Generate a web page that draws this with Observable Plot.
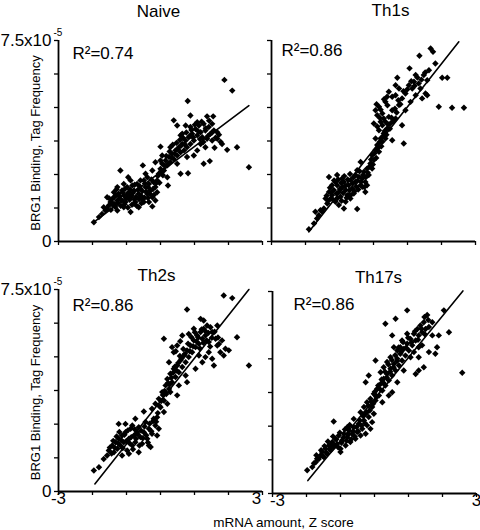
<!DOCTYPE html>
<html>
<head>
<meta charset="utf-8">
<script src="https://cdn.jsdelivr.net/npm/d3@7"></script>
<script src="https://cdn.jsdelivr.net/npm/@observablehq/plot@0.6"></script>
<style>
  html, body { margin: 0; padding: 0; background: #fff; }
  #chart { position: relative; width: 480px; height: 530px; font-family: "Liberation Sans", Arial, Helvetica, sans-serif; }
  #chart > svg { position: absolute; }
  #xlabel { position: absolute; left: 183.5px; width: 200px; top: 515.6px; text-align: center; font-size: 13.5px; line-height: 13.5px; color: #000; white-space: nowrap; }
</style>
</head>
<body>
<div id="chart"></div>
<script>
// ---------------- data ----------------
const panelNames = ["Naive", "Th1s", "Th2s", "Th17s"];
const rSquared = ["R\u00B2=0.74", "R\u00B2=0.86", "R\u00B2=0.86", "R\u00B2=0.86"];
const xTicks = [-3, -2, -1, 0, 1, 2, 3];
const xTickLabels = ["-3", "3"];
const yTicks = [0, 1.25, 2.5, 3.75, 5, 6.25, 7.5];           // BRG1 tag frequency, x10^-5
const yTickLabels = ["0", "", "", "", "", "", "7.5x10"];
const yExponent = "-5";
const yLabel = "BRG1 Binding, Tag Frequency";
const xLabel = "mRNA amount, Z score";

// regression lines [x, y] (y in units of 1e-5)
const fitNaive = [[-1.96, 0.72], [2.60, 5.07]];
const fitTh1 = [[-1.90, 0.36], [2.51, 7.45]];
const fitTh2 = [[-1.93, 0.28], [2.60, 7.50]];
const fitTh17 = [[-1.96, 0.48], [2.60, 7.52]];

// points [mRNA z score, BRG1 tag frequency x1e-5]
const naivePoints = [
  [1.88,6.03],[2.11,5.63],[0.80,5.24],[2.60,2.77],[2.25,3.52],[1.96,3.42],[-1.18,2.65],[-0.95,2.40],
  [-0.52,2.84],[-1.96,0.72],[0.22,2.09],[0.59,2.53],[0.81,2.55],[-0.24,1.31],[-0.88,1.10],[-1.67,1.28],
  [0.39,4.52],[0.88,4.70],[1.37,4.67],[1.55,4.67],[1.67,4.08],[1.77,3.71],[1.59,3.50],[1.27,2.90],
  [1.45,3.00],[0.98,3.21],[0.64,4.02],[0.00,3.54],
  [-1.81,0.91],[-1.72,1.03],[-1.62,1.16],[-1.52,1.34],[-1.47,1.47],[-1.42,1.59],[-1.37,1.41],[-1.32,1.72],
  [-1.27,1.53],[-1.23,1.78],[-1.18,1.59],[-1.13,1.90],[-1.08,1.72],[-1.03,1.47],[-0.98,2.03],[-0.93,1.84],
  [-0.88,1.65],[-0.83,2.09],[-0.78,1.90],[-0.74,1.47],[-0.69,2.15],[-0.64,1.78],[-0.59,1.97],[-0.54,1.59],
  [-0.49,2.28],[-0.44,2.03],[-0.39,1.78],[-0.34,2.15],[-0.29,1.90],[-0.24,1.65],[-0.20,2.21],[-0.15,2.03],
  [-0.10,1.84],[-1.37,1.84],[-1.27,2.03],[-1.08,2.15],[-0.78,1.41],[-0.64,1.28],[-0.49,1.47],[-0.34,1.47],
  [-0.15,1.53],[-0.10,2.28],[-0.05,2.53],[0.00,2.71],[0.05,2.90],[0.10,2.65],[0.15,3.02],[0.20,2.84],
  [0.25,3.15],[0.29,2.96],[0.34,3.27],[0.39,3.08],[0.44,3.40],[0.49,3.21],[0.54,3.52],[0.59,3.33],
  [0.64,3.64],[0.69,3.40],[0.74,3.77],[0.78,3.52],[0.83,3.89],[0.88,3.64],[0.93,4.02],[0.98,3.77],
  [1.03,4.20],[1.08,3.96],[1.13,4.33],[1.18,4.08],[1.23,3.89],[1.27,4.39],[1.32,4.14],[1.37,3.83],
  [1.42,4.27],[1.47,4.02],[1.52,4.39],[1.57,4.14],[1.08,3.40],[0.78,3.15],[0.49,2.90],[0.20,2.40],
  [0.05,3.21],[0.29,3.52],[0.59,3.96],[0.74,4.33],[0.88,4.27],[1.18,3.64],[1.32,3.52],[1.52,3.77],
  [1.67,3.83],[1.81,3.64],[1.08,4.45],[0.49,4.33],[0.00,3.02],[-0.39,2.40],[-0.59,2.28],[-0.88,2.28],
  [-1.27,1.16],[-1.08,1.28],[-1.57,1.65],[-0.44,2.53],[-0.24,2.65],[-0.15,2.96],
  [-1.58,1.22],[-1.51,1.61],[-1.46,1.18],[-1.41,1.37],[-1.36,1.66],[-1.33,1.29],[-1.29,1.95],[-1.26,1.44],
  [-1.21,1.68],[-1.17,1.33],[-1.14,1.52],[-1.11,1.83],[-1.06,1.39],[-1.04,1.97],[-1.01,1.61],[-0.97,1.77],
  [-0.96,1.27],[-0.91,1.56],[-0.89,1.93],[-0.86,1.71],[-0.84,1.37],[-0.81,1.82],[-0.77,1.58],[-0.76,2.12],
  [-0.72,1.67],[-0.70,1.33],[-0.67,1.92],[-0.63,1.58],[-0.61,2.06],[-0.57,1.71],[-0.56,1.43],[-0.53,1.88],
  [-0.47,1.63],[-0.46,2.16],[-0.42,1.86],[-0.37,1.62],[-0.36,2.02],[-0.31,1.77],[-0.27,2.31],[-0.22,1.96],
  [-0.19,1.74],[-0.13,2.17],[-0.08,2.44],[-0.03,2.19],[0.02,2.62],[0.07,2.47],[0.12,2.83],[0.17,3.19],
  [0.23,2.91],[0.27,3.36],[0.32,3.13],[0.36,3.61],[0.42,3.27],[0.47,3.68],[0.51,3.44],[0.57,3.79],
  [0.61,3.58],[0.66,3.87],[0.71,3.63],[0.76,4.07],[0.86,3.93],[0.91,4.16],[0.96,3.88],[1.01,4.36],
  [1.11,4.11],[1.16,3.82],[1.21,4.47],[1.26,3.71],[1.33,4.23],[1.39,3.93],[1.43,4.51],[1.51,4.06],
  [1.62,3.87],[1.72,3.98]
];
const th1Points = [
  [-1.90,0.46],[-1.75,0.67],[-1.66,0.86],[-1.71,1.11],[-1.56,1.17],[-1.46,1.23],[-1.36,1.42],[-1.31,2.41],
  [-1.26,1.60],[-1.22,1.73],[-1.17,1.92],[-1.12,1.48],[-1.07,2.10],[-1.02,1.85],[-0.97,1.67],[-0.92,2.04],
  [-0.87,2.22],[-0.82,1.92],[-0.77,1.73],[-0.73,2.10],[-0.68,2.29],[-0.63,1.98],[-0.58,1.79],[-0.53,2.22],
  [-0.48,1.21],[-0.43,2.41],[-0.38,2.10],[-0.33,2.35],[-0.28,2.60],[-0.24,2.22],[-0.19,2.72],[-0.14,2.48],
  [-1.22,2.10],[-1.12,2.22],[-1.02,1.36],[-0.82,1.48],[-0.68,1.60],[-0.92,2.35],[-1.31,1.85],[-1.41,1.60],
  [-0.53,2.48],[-0.33,2.04],[-0.19,2.10],[-0.09,2.91],[-0.04,3.22],[0.01,3.04],[0.06,3.41],[0.11,3.60],
  [0.16,3.35],[0.21,3.84],[0.26,3.72],[0.30,4.03],[0.35,3.84],[0.40,4.22],[0.06,3.84],[0.16,4.15],
  [0.26,4.34],[0.01,4.40],[0.11,4.71],[0.06,4.90],[0.16,5.03],[0.26,4.78],[0.35,5.21],[0.40,5.40],
  [0.45,5.59],[0.55,5.40],[0.65,5.46],[0.70,6.11],[0.75,5.71],[0.84,5.34],[0.94,5.52],[1.04,5.83],
  [1.06,6.46],[1.14,5.71],[1.19,5.96],[1.24,6.21],[1.33,5.90],[1.35,6.93],[1.43,5.34],[1.48,6.21],
  [1.53,5.52],[1.58,6.02],[1.63,6.39],[1.68,7.20],[1.75,7.08],[1.82,6.64],[1.92,5.03],[2.02,6.11],
  [2.17,6.11],[2.31,4.99],[2.66,4.99],[0.89,3.66],[0.55,3.78],[0.94,4.90],[0.84,4.34],[0.65,4.59],
  [0.50,4.40],[0.35,4.47],[0.75,5.09],[1.09,5.21],[1.24,5.46],[1.38,5.71],[1.58,5.46],[0.55,4.90],
  [0.45,4.65],[0.65,5.83],[0.30,4.59],[0.21,4.47],[-0.04,2.72],[-0.24,1.85],[-0.48,2.66],[-0.38,2.97],
  [-0.73,1.73],[-1.07,2.48],[-1.51,1.11],[-1.61,0.98],[-0.87,1.23],
  [-1.38,1.71],[-1.33,1.52],[-1.28,2.01],[-1.24,1.83],[-1.19,1.56],[-1.16,2.28],[-1.09,1.79],[-1.06,1.62],
  [-1.04,2.31],[-0.99,1.96],[-0.95,2.19],[-0.94,1.52],[-0.89,1.81],[-0.86,2.44],[-0.83,2.07],[-0.79,1.63],
  [-0.76,2.31],[-0.71,1.91],[-0.69,2.52],[-0.66,1.74],[-0.61,2.16],[-0.59,2.39],[-0.56,1.87],[-0.51,2.05],
  [-0.47,2.27],[-0.45,1.94],[-0.41,2.62],[-0.36,2.23],[-0.31,2.48],[-0.27,2.03],[-0.22,2.41],[-0.17,2.57],
  [-0.12,2.79],[-0.07,3.06],[-0.02,2.87],[0.03,3.29],[0.08,3.12],[0.13,3.49],[0.18,3.71],[0.23,3.55],
  [0.28,3.93],[0.33,4.12],[0.38,3.98],[0.43,4.37],[0.48,4.21],[0.53,4.62],[0.58,4.49],[0.63,4.95],
  [0.68,4.81],[0.73,5.27],[0.79,5.12],[0.88,5.61],[0.99,5.67],[1.11,5.98],[1.21,5.81],[1.29,6.12],
  [1.41,6.04],[1.52,6.31],[0.09,5.12],[0.21,4.92],[0.31,5.31],[0.41,5.08],[0.19,4.61],[0.11,4.29]
];
const th2Points = [
  [-1.96,0.78],[-1.81,0.90],[-1.67,1.21],[-1.57,1.34],[-1.52,1.52],[-1.42,1.71],[-1.37,1.46],[-1.32,1.83],
  [-1.27,1.59],[-1.23,2.51],[-1.23,1.96],[-1.18,1.71],[-1.13,2.08],[-1.08,1.83],[-1.03,2.51],[-1.03,2.20],
  [-0.98,1.52],[-0.93,1.96],[-0.88,2.33],[-0.83,2.45],[-0.83,1.71],[-0.78,2.08],[-0.74,1.83],[-0.69,2.20],
  [-0.64,1.46],[-0.64,2.39],[-0.59,2.02],[-0.54,1.77],[-0.49,2.20],[-0.44,2.58],[-0.39,1.96],[-0.34,2.33],
  [-0.29,1.65],[-0.25,2.14],[-0.20,2.70],[-0.15,2.45],[-0.10,2.76],[-0.05,2.33],[-0.49,2.97],[-0.25,3.07],
  [-0.15,3.26],[-0.05,3.44],[0.00,3.13],[0.05,3.69],[0.10,3.38],[0.15,3.94],[0.20,3.26],[0.20,4.18],
  [0.25,3.81],[0.29,4.37],[0.34,4.06],[0.39,4.56],[0.44,4.25],[0.49,3.57],[0.49,4.68],[0.54,4.43],
  [0.59,4.87],[0.64,4.62],[0.69,5.05],[0.74,4.80],[0.78,6.76],[0.78,4.06],[0.78,5.24],[0.83,4.99],
  [0.88,5.42],[0.93,5.17],[0.98,5.61],[1.03,5.36],[1.08,5.79],[1.13,5.48],[1.18,6.41],[1.18,5.92],
  [1.23,5.67],[1.27,6.04],[1.32,5.79],[1.37,6.16],[1.42,5.55],[1.47,6.10],[1.52,5.92],[1.57,4.68],
  [1.62,5.67],[1.67,5.42],[1.72,5.48],[1.76,5.17],[1.81,5.61],[1.86,7.28],[1.91,5.30],[2.01,5.24],
  [2.11,7.18],[2.25,5.73],[2.60,4.68],[0.10,5.67],[0.34,5.36],[0.49,5.42],[0.64,5.79],[0.83,5.85],
  [1.13,5.05],[1.23,4.80],[1.32,4.99],[1.42,5.17],[1.52,4.93],[1.03,4.56],[0.74,4.31],[0.54,3.94],
  [0.29,3.69],[0.10,2.95],[-0.10,2.08],[-0.34,1.71],[-0.93,1.40],[-1.13,1.34],[-0.74,2.70],[0.25,4.80],
  [0.39,5.17],[0.98,6.04],[1.27,6.35],[1.67,6.16],[1.86,5.05],
  [-1.49,1.63],[-1.44,1.41],[-1.39,1.88],[-1.34,1.62],[-1.29,2.04],[-1.24,1.78],[-1.21,2.21],[-1.16,1.91],
  [-1.11,1.61],[-1.06,2.11],[-1.01,1.87],[-0.96,2.27],[-0.91,1.79],[-0.86,2.02],[-0.81,1.57],[-0.76,2.31],
  [-0.72,1.96],[-0.67,2.13],[-0.62,1.71],[-0.57,2.26],[-0.52,1.98],[-0.47,2.41],[-0.42,2.09],[-0.37,1.82],
  [-0.32,2.52],[-0.27,2.24],[-0.22,2.61],[-0.13,2.59],[-0.08,2.91],[-0.03,3.17],[0.02,3.36],[0.07,3.58],
  [0.12,3.73],[0.17,3.62],[0.22,4.03],[0.27,3.97],[0.32,4.22],[0.37,4.41],[0.42,4.63],[0.47,4.49],
  [0.52,4.77],[0.57,5.03],[0.62,4.94],[0.67,5.29],[0.72,5.11],[0.81,5.49],[0.86,5.21],[0.91,5.73],
  [0.96,5.39],[1.01,5.91],[1.06,5.57],[1.11,5.72],[1.16,5.31],[1.21,6.02],[1.26,5.52],[1.31,5.97],
  [1.36,5.61],[1.41,5.89],[1.46,5.38],[1.51,5.71],[1.59,5.93],[1.69,5.72],[0.58,5.58],[0.45,5.21]
];
const th17Points = [
  [-1.98,0.86],[-1.83,0.98],[-1.73,1.16],[-1.69,1.29],[-1.59,1.41],[-1.54,1.54],[-1.49,1.35],[-1.44,1.66],
  [-1.39,1.47],[-1.34,1.78],[-1.29,1.60],[-1.24,1.91],[-1.20,2.67],[-1.20,1.72],[-1.15,2.03],[-1.10,1.84],
  [-1.05,2.15],[-1.00,1.66],[-0.95,1.97],[-0.90,2.22],[-0.85,1.78],[-0.80,2.09],[-0.75,2.34],[-0.71,1.91],
  [-0.66,2.22],[-0.61,2.46],[-0.56,2.03],[-0.51,2.28],[-0.46,2.59],[-0.41,2.15],[-0.36,2.40],[-0.31,2.71],
  [-0.26,2.22],[-0.22,2.53],[-0.17,2.84],[-0.12,2.40],[-0.07,2.65],[-0.02,2.96],[-0.61,2.77],[-0.80,2.46],
  [-1.00,1.54],[-0.41,3.02],[-0.31,3.21],[-0.22,3.39],[-0.26,2.96],[-0.12,3.52],[-0.07,3.21],[-0.02,3.70],
  [0.03,3.45],[0.08,3.89],[0.13,3.64],[0.18,4.07],[0.23,3.82],[-0.17,4.38],[-0.26,4.13],[0.03,3.64],
  [0.23,3.39],[0.52,3.76],[0.27,4.26],[0.32,4.01],[0.37,4.44],[0.42,4.20],[0.47,4.63],[0.52,4.38],
  [0.57,4.81],[0.62,4.57],[0.67,5.00],[0.72,4.75],[0.76,5.19],[0.81,4.94],[0.86,5.37],[0.91,5.12],
  [0.96,5.56],[1.01,5.31],[1.06,5.74],[1.11,5.50],[1.16,5.93],[1.21,5.68],[1.26,6.11],[1.30,5.87],
  [1.35,6.24],[1.40,5.99],[1.45,6.36],[1.50,6.11],[0.96,6.80],[0.62,6.49],[0.32,6.30],[0.52,5.87],
  [0.96,5.93],[1.55,6.63],[1.47,6.55],[2.04,6.80],[2.19,5.99],[1.89,5.87],[1.70,5.87],[1.84,5.43],
  [1.79,5.19],[1.60,5.25],[1.40,5.50],[1.30,5.06],[1.45,4.69],[1.30,4.57],[1.21,4.44],[2.58,4.48],
  [0.57,5.43],[0.76,5.43],[0.03,4.94],[0.37,4.88],[0.18,4.50],[0.67,5.31],[0.81,5.68],[1.06,5.06],
  [1.16,5.25],[0.27,4.69],[0.47,5.06],[1.70,6.36],[1.60,6.18],[1.30,5.43],[0.86,4.57],[0.67,4.13],
  [0.42,3.64],
  [-1.78,1.12],[-1.71,1.42],[-1.64,1.28],[-1.57,1.61],[-1.52,1.39],[-1.47,1.76],[-1.42,1.52],[-1.37,1.93],
  [-1.32,1.66],[-1.27,1.82],[-1.22,2.12],[-1.17,1.79],[-1.12,2.01],[-1.07,1.72],[-1.02,2.26],[-0.97,1.88],
  [-0.92,2.07],[-0.87,2.38],[-0.82,1.96],[-0.77,2.19],[-0.73,2.54],[-0.68,2.02],[-0.63,2.31],[-0.58,2.12],
  [-0.53,2.47],[-0.48,2.31],[-0.43,2.71],[-0.38,2.52],[-0.33,2.87],[-0.28,2.61],[-0.23,3.02],[-0.18,3.26],
  [-0.14,3.08],[-0.09,3.41],[-0.04,3.33],[0.01,3.78],[0.06,3.58],[0.11,4.01],[0.16,3.87],[0.21,4.23],
  [0.26,4.11],[0.31,4.52],[0.36,4.31],[0.41,4.79],[0.46,4.52],[0.51,4.96],[0.56,4.69],[0.61,5.13],
  [0.66,4.91],[0.71,5.42],[0.79,5.26],[0.84,5.62],[0.93,5.41],[0.99,5.78],[1.09,5.62],[1.19,6.02],
  [1.28,5.71],[1.38,6.12],[1.48,5.91],[1.58,6.44]
];

// ---------------- layout ----------------
const layout = [
  {left: 0,   top: 0,   width: 266, height: 262, mL: 58, mR: 4, mT: 40, mB: 21, yLabels: true,  xLabels: false, titleDx: -2, titleDy: -35.4, rDx: 14, rDy: 6.2},
  {left: 266, top: 0,   width: 214, height: 262, mL: 5,  mR: 5, mT: 40, mB: 21, yLabels: false, xLabels: false, titleDx: 17, titleDy: -37,   rDx: 10, rDy: 3},
  {left: 0,   top: 262, width: 266, height: 268, mL: 58, mR: 4, mT: 27, mB: 39, yLabels: true,  xLabels: true, xDx: [0, -6], titleDx: -4, titleDy: -21,  rDx: 14, rDy: 9.4},
  {left: 266, top: 262, width: 214, height: 268, mL: 6,  mR: 4, mT: 29, mB: 37, yLabels: false, xLabels: true, xDx: [5, 0],  titleDx: 4,  titleDy: -20.4, rDx: 21, rDy: 6.9}
];
const pointSets = [naivePoints, th1Points, th2Points, th17Points];
const fits = [fitNaive, fitTh1, fitTh2, fitTh17];
const FONT = "'Liberation Sans', Arial, Helvetica, sans-serif";

const chart = document.getElementById("chart");

layout.forEach((cfg, k) => {
  const marks = [
    Plot.ruleX([-3], {stroke: "#000", strokeWidth: 1.8}),
    Plot.ruleY([0], {stroke: "#000", strokeWidth: 1.8}),
    Plot.axisX({ticks: xTicks, tickSize: 4, tickFormat: () => "", label: null, strokeWidth: 1.3}),
    Plot.axisY({
      ticks: yTicks, tickSize: 4, tickPadding: 3, label: null, strokeWidth: 1.3, fontSize: 17,
      tickFormat: cfg.yLabels ? (d) => yTickLabels[yTicks.indexOf(d)] : () => ""
    }),
    Plot.dot(pointSets[k], {x: d => d[0], y: d => d[1], symbol: "diamond2", r: 2.9, fill: "#000", stroke: "none"}),
    Plot.line(fits[k], {x: d => d[0], y: d => d[1], stroke: "#000", strokeWidth: 1.6}),
    Plot.text([panelNames[k]], {text: d => d, frameAnchor: "top", textAnchor: "middle", lineAnchor: "top", dx: cfg.titleDx, dy: cfg.titleDy, fontSize: 17, fill: "#000"}),
    Plot.text([rSquared[k]], {text: d => d, frameAnchor: "top-left", textAnchor: "start", lineAnchor: "top", dx: cfg.rDx, dy: cfg.rDy, fontSize: 17, fill: "#000"})
  ];
  if (cfg.yLabels) {
    marks.push(
      Plot.text([yExponent], {text: d => d, x: () => -3, y: () => yTicks[yTicks.length - 1], textAnchor: "start", lineAnchor: "middle", dx: -5, dy: -7.5, fontSize: 10, fill: "#000"}),
      Plot.text([yLabel], {text: d => d, frameAnchor: "left", textAnchor: "middle", rotate: -90, lineAnchor: "middle", dx: -22.2, dy: 2, fontSize: 13, fill: "#000"})
    );
  }
  if (cfg.xLabels) {
    marks.push(
      Plot.text([xTickLabels[0]], {text: d => d, x: () => xTicks[0], frameAnchor: "bottom", textAnchor: "middle", lineAnchor: "top", dx: cfg.xDx[0], dy: 0, fontSize: 17, fill: "#000"}),
      Plot.text([xTickLabels[1]], {text: d => d, x: () => xTicks[xTicks.length - 1], frameAnchor: "bottom", textAnchor: "middle", lineAnchor: "top", dx: cfg.xDx[1], dy: 0, fontSize: 17, fill: "#000"})
    );
  }
  const svg = Plot.plot({
    width: cfg.width, height: cfg.height,
    marginLeft: cfg.mL, marginRight: cfg.mR, marginTop: cfg.mT, marginBottom: cfg.mB,
    x: {domain: [-3, 3], label: null},
    y: {domain: [0, 7.5], label: null},
    style: {fontFamily: FONT, background: "transparent", overflow: "visible", color: "#000"},
    marks
  });
  svg.style.left = cfg.left + "px";
  svg.style.top = cfg.top + "px";
  chart.appendChild(svg);
});

const xl = document.createElement("div");
xl.id = "xlabel";
xl.textContent = xLabel;
chart.appendChild(xl);
</script>
</body>
</html>
